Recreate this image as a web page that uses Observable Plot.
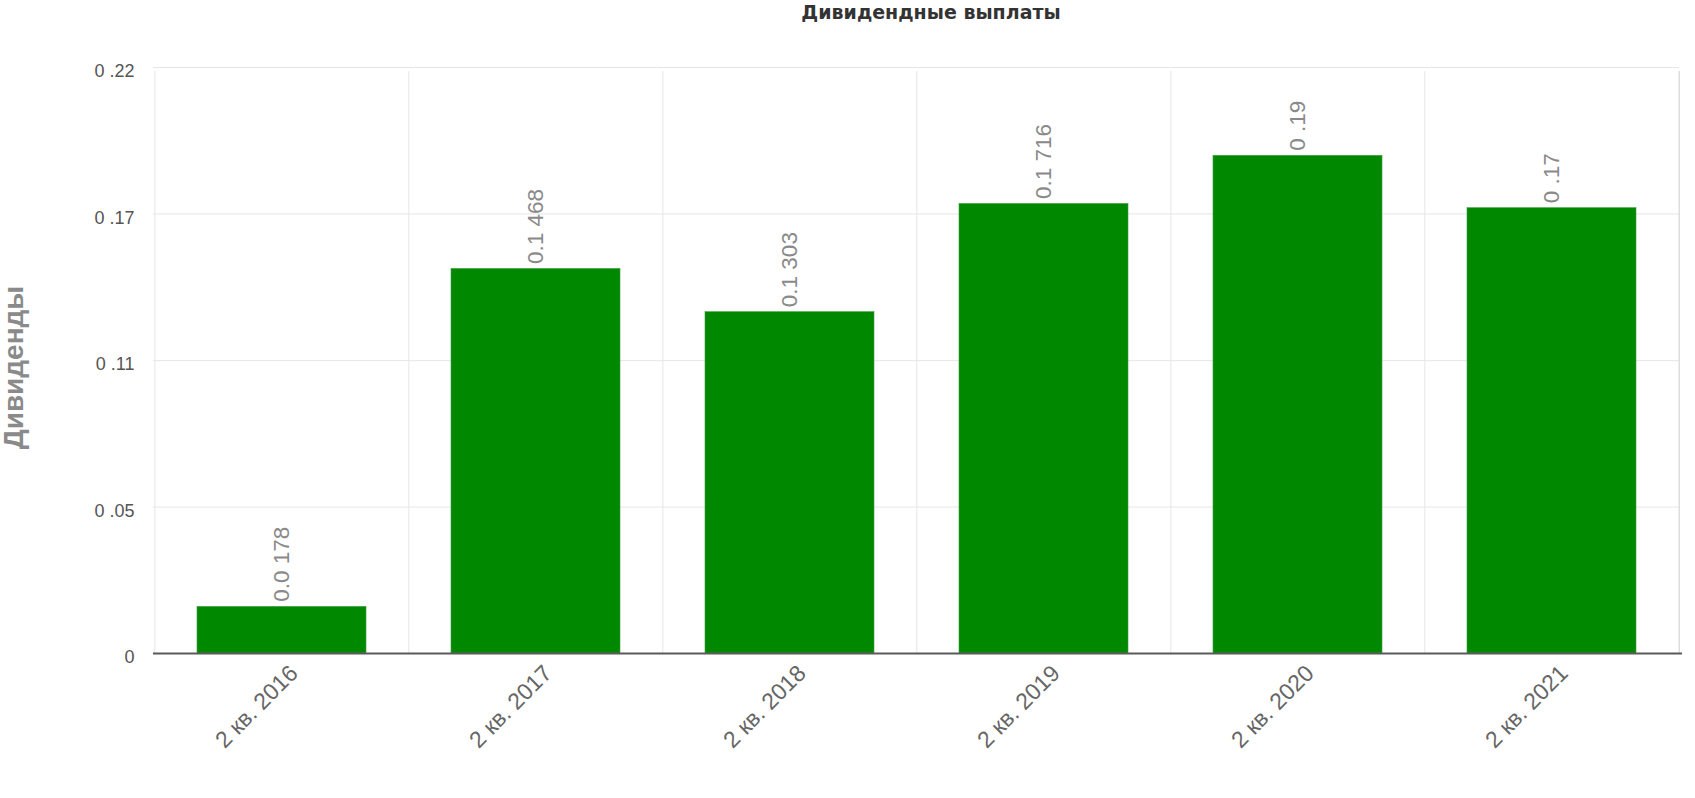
<!DOCTYPE html>
<html>
<head>
<meta charset="utf-8">
<script src="https://cdn.jsdelivr.net/npm/d3@7"></script>
<script src="https://cdn.jsdelivr.net/npm/@observablehq/plot@0.6"></script>
<style>
  html, body { margin: 0; padding: 0; background: #fff; }
  #wrap { position: relative; width: 1695px; height: 798px; overflow: hidden; }
  #topline { position: absolute; left: 0; top: 0; width: 1695px; height: 2px; background: #e6e6e6; }
  #title { position: absolute; top: 1px; left: 931px; transform: translateX(-50%); white-space: nowrap;
           font-family: "DejaVu Sans", sans-serif; font-weight: bold; font-size: 19px; color: #333; }
  #chart { position: absolute; left: 0; top: 0; }
</style>
</head>
<body>
<div id="wrap">
  <div id="topline"></div>
  <div id="chart"></div>
  <div id="title">Дивидендные выплаты</div>
</div>
<script>
// Data
const categories = ["2 кв. 2016", "2 кв. 2017", "2 кв. 2018", "2 кв. 2019", "2 кв. 2020", "2 кв. 2021"];
const values = [0.0178, 0.1468, 0.1303, 0.1716, 0.19, 0.17];
const valueLabels = ["0.0 178", "0.1 468", "0.1 303", "0.1 716", "0 .19", "0 .17"];
const yTicks = [0, 0.0559, 0.1118, 0.1678, 0.2237];
const yTickLabels = ["0", "0 .05", "0 .11", "0 .17", "0 .22"];
const yTitle = "Дивиденды";

const data = categories.map((c, i) => ({cat: c, value: values[i], label: valueLabels[i]}));
const tickLabelMap = new Map(yTicks.map((t, i) => [t, yTickLabels[i]]));

const W = 1695, H = 798;
const mL = 153, mR = 16, mT = 67, mB = 145;
const step = (W - mL - mR) / categories.length;

const chart = Plot.plot({
  width: W,
  height: H,
  marginLeft: mL,
  marginRight: mR,
  marginTop: mT,
  marginBottom: mB,
  style: {fontFamily: "'Liberation Sans', Arial, sans-serif", background: "#fff"},
  x: {type: "band", domain: categories, paddingInner: 0.335, paddingOuter: 0.1675, label: null},
  y: {domain: [0, yTicks[yTicks.length - 1]], label: null},
  marks: [
    Plot.ruleY(yTicks.slice(1), {stroke: "#e6e6e6", strokeWidth: 1}),
    Plot.ruleX(categories, {x: d => d, y1: 0, y2: yTicks[yTicks.length - 1], dx: -step / 2, stroke: "#e6e6e6", strokeWidth: 1, insetBottom: -4}),
    Plot.ruleX([categories[categories.length - 1]], {x: d => d, y1: 0, y2: yTicks[yTicks.length - 1], dx: step / 2, stroke: "#cccccc", strokeWidth: 1, insetBottom: -4}),
    Plot.barY(data, {x: "cat", y: "value", fill: "#008800", stroke: "#3f9f3f", strokeWidth: 0.6}),
    Plot.ruleY([0], {stroke: "#5a5a5a", strokeWidth: 2, insetRight: -3}),
    Plot.text(data, {x: "cat", y: "value", text: "label", rotate: -90, textAnchor: "start", lineAnchor: "middle", dy: -5, fill: "#8a8a8a", fontSize: 22.5}),
    Plot.axisY({ticks: yTicks, tickFormat: d => tickLabelMap.get(d), tickSize: 0, tickPadding: 19, fontSize: 18, dy: 4, color: "#555", label: null}),
    Plot.axisX({tickRotate: -45, tickSize: 0, tickPadding: 16, dx: 12, fontSize: 23, color: "#666", label: null}),
    Plot.text([yTitle], {frameAnchor: "left", textAnchor: "middle", rotate: -90, dx: -139, dy: 7, fill: "#8a8a8a", fontSize: 28, fontWeight: "bold"})
  ]
});
document.getElementById("chart").appendChild(chart);
</script>
</body>
</html>
